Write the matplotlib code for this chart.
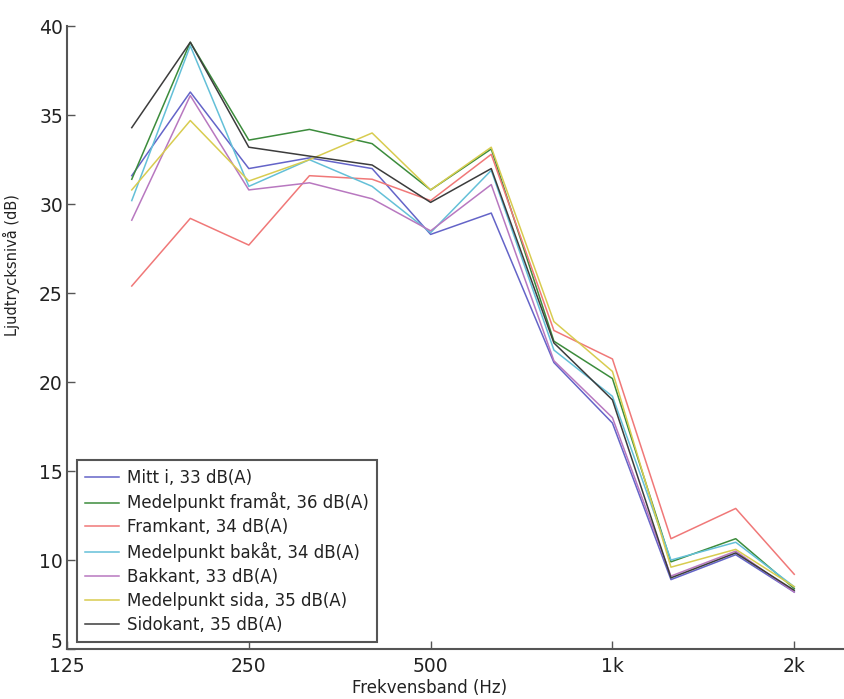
import matplotlib.pyplot as plt
import matplotlib.transforms as mtransforms
from matplotlib.ticker import FixedLocator, NullLocator

plt.rcParams['font.family'] = ['DejaVu Sans']

# 1/3-octave band centre frequencies (Hz)
freq = [160, 200, 250, 315, 400, 500, 630, 800, 1000, 1250, 1600, 2000]

mitt_i = [31.6, 36.3, 32.0, 32.6, 32.0, 28.3, 29.5, 21.1, 17.7, 8.9, 10.3, 8.2]
medel_fram = [31.4, 39.1, 33.6, 34.2, 33.4, 30.8, 33.1, 22.3, 20.2, 9.9, 11.2, 8.4]
framkant = [25.4, 29.2, 27.7, 31.6, 31.4, 30.2, 32.8, 22.9, 21.3, 11.2, 12.9, 9.2]
medel_bak = [30.2, 38.9, 31.0, 32.5, 31.0, 28.4, 31.9, 21.8, 19.2, 10.0, 11.0, 8.5]
bakkant = [29.1, 36.1, 30.8, 31.2, 30.3, 28.5, 31.1, 21.2, 18.0, 9.1, 10.5, 8.2]
medel_sida = [30.8, 34.7, 31.3, 32.5, 34.0, 30.8, 33.2, 23.4, 20.6, 9.6, 10.6, 8.5]
sidokant = [34.3, 39.1, 33.2, 32.7, 32.2, 30.1, 32.0, 22.2, 19.0, 9.0, 10.4, 8.3]

labels = ['Mitt i, 33 dB(A)', 'Medelpunkt framåt, 36 dB(A)', 'Framkant, 34 dB(A)',
          'Medelpunkt bakåt, 34 dB(A)', 'Bakkant, 33 dB(A)',
          'Medelpunkt sida, 35 dB(A)', 'Sidokant, 35 dB(A)']
colors = ['#6464c8', '#3c8c3c', '#f07878', '#64c0d8', '#b878c0', '#d8cc50', '#3c3c3c']

x_ticks = [125, 250, 500, 1000, 2000]
x_ticklabels = ['125', '250', '500', '1k', '2k']
y_ticks = [5, 10, 15, 20, 25, 30, 35, 40]

fig = plt.figure(figsize=(8.44, 6.99), dpi=100)
ax = fig.add_axes([0.0794, 0.0715, 0.931, 0.891])

series = [mitt_i, medel_fram, framkant, medel_bak, bakkant, medel_sida, sidokant]
for vals, lab, col in zip(series, labels, colors):
    ax.plot(freq, vals, color=col, linewidth=1.1, label=lab)

ax.set_xscale('log')
ax.set_xlim(125, 2500)
ax.set_ylim(5, 40)
ax.xaxis.set_major_locator(FixedLocator(x_ticks))
ax.xaxis.set_minor_locator(NullLocator())
ax.set_xticklabels(x_ticklabels)
ax.set_yticks(y_ticks)

for side in ['top', 'right']:
    ax.spines[side].set_visible(False)
for side in ['left', 'bottom']:
    ax.spines[side].set_color('#555555')
    ax.spines[side].set_linewidth(1.5)

ax.tick_params(direction='in', length=6, width=1, colors='#555555',
               labelcolor='#222222', labelsize=13.5)
ax.tick_params(axis='y', pad=3)
ax.tick_params(axis='x', pad=6)

# lift the bottom "5" a little so it sits above "125", as in the original
fig.canvas.draw()
lift = mtransforms.ScaledTranslation(0, 6 / 72, fig.dpi_scale_trans)
ylab0 = ax.get_yticklabels()[0]
ylab0.set_transform(ylab0.get_transform() + lift)

ax.set_xlabel('Frekvensband (Hz)', fontsize=12, color='#222222')
ax.set_ylabel('Ljudtrycksnivå (dB)', fontsize=10.5, color='#222222')
ax.xaxis.set_label_coords(0.462, -0.048)
ax.yaxis.set_label_coords(-0.06, 0.616)

leg = ax.legend(loc='lower left', bbox_to_anchor=(77 / 844, 57 / 699),
                bbox_transform=fig.transFigure, borderaxespad=0,
                fontsize=12, handlelength=2.0, handletextpad=0.5,
                labelspacing=0.35, fancybox=False, framealpha=1,
                borderpad=0.5)
leg.get_frame().set_edgecolor('#555555')
leg.get_frame().set_linewidth(1.5)
for t in leg.get_texts():
    t.set_color('#222222')

plt.savefig('out.png', dpi=100)
